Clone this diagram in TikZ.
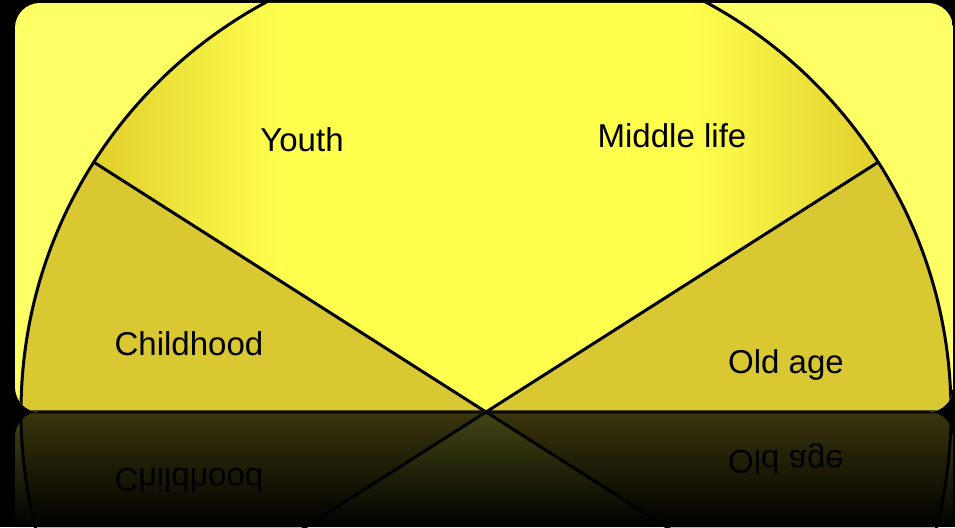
\documentclass[tikz,border=0pt]{standalone}
\usepackage{fontspec}
\setmainfont{Liberation Sans}
\usetikzlibrary{fadings}

\definecolor{panelyellow}{RGB}{255,255,102}
\definecolor{sectorolive}{RGB}{217,200,50}
\definecolor{centerbright}{RGB}{255,255,78}
\definecolor{edgegold}{RGB}{226,207,44}
\pgfdeclarehorizontalshading{lifeglow}{100bp}{color(0bp)=(edgegold); color(25bp)=(edgegold); color(37bp)=(centerbright); color(63bp)=(centerbright); color(75bp)=(edgegold); color(100bp)=(edgegold)}
\tikzfading[name=reflectfade, top color=transparent!27, bottom color=transparent!0]

\tikzset{
  stagelabel/.style={font=\fontsize{23.5}{28}\selectfont, text=black},
  rim/.style={line width=0.075cm, black}
}

% #1 name prefix, #2 extra label options
\newcommand{\lifestages}[2]{%
  \begin{scope}
    \clip[rounded corners=0.625cm] (15,115) rectangle (953,524);
    \fill[panelyellow] (15,115) rectangle (953,524);
    \coordinate (#1hub) at (486,115);
    % outer sectors
    \fill[sectorolive] (#1hub) -- ++(147.5:465) arc[start angle=147.5, end angle=180, radius=465] -- cycle;
    \fill[sectorolive] (#1hub) -- ++(0:465) arc[start angle=0, end angle=32.5, radius=465] -- cycle;
    % middle sector
    \shade[shading=lifeglow] (#1hub) -- ++(32.5:465) arc[start angle=32.5, end angle=147.5, radius=465] -- cycle;
    % outline
    \draw[rim] (#1hub) ++(180:465) arc[start angle=180, end angle=0, radius=465] -- cycle;
    \draw[rim] (#1hub) -- ++(147.5:465);
    \draw[rim] (#1hub) -- ++(32.5:465);
    \node[stagelabel, #2] (#1childhood) at (189,183) {Childhood};
    \node[stagelabel, #2] (#1old) at (786,162) {Old age};
  \end{scope}}

\begin{document}
\begin{tikzpicture}[x=0.025cm, y=0.025cm]
  \fill[black] (0,0) rectangle (955,527);
  \useasboundingbox (0,0) rectangle (955,527);

  % Panel
  \lifestages{top}{}
  \node[stagelabel] (youth) at (302,387) {Youth};
  \node[stagelabel] (middle) at (672,391) {Middle life};

  % Reflection
  \begin{scope}[shift={(0,230)}, yscale=-1]
    \lifestages{mirror}{transform shape}
  \end{scope}
  \fill[black, path fading=reflectfade] (0,0) rectangle (955,115);
\end{tikzpicture}
\end{document}
